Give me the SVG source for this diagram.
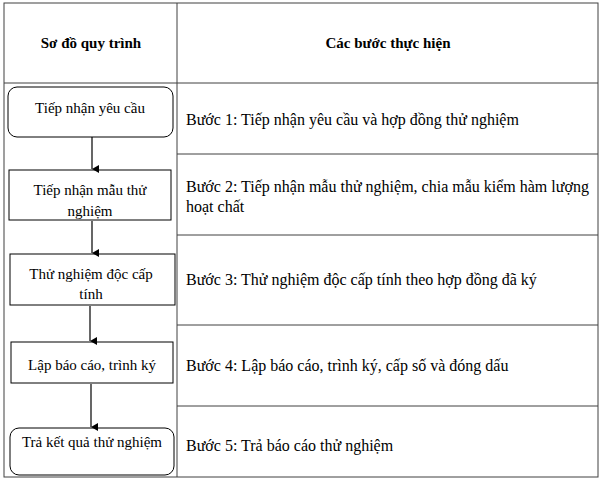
<svg xmlns="http://www.w3.org/2000/svg" width="602" height="488" viewBox="0 0 602 488">
<defs>
<marker id="ah" markerWidth="8" markerHeight="8" refX="4" refY="7" orient="auto" markerUnits="userSpaceOnUse"><path d="M0,0 L8,0 L4,7 Z" fill="#000"/></marker>
<style>
text{font-family:'Liberation Serif','Times New Roman','DejaVu Serif',serif;font-size:15px;fill:#000}
.h{font-weight:bold}
.r{font-size:16px}
.b{fill:#fff;stroke:#000;stroke-width:1}
.g{stroke:#404040;stroke-width:1;fill:none}
.c{stroke:#000;stroke-width:1.2;fill:none;marker-end:url(#ah)}
</style>
</defs>
<rect width="602" height="488" fill="#fff"/>
<g id="table">
<rect class="g" x="4" y="3" width="594" height="474"/>
<line class="g" x1="177" y1="3" x2="177" y2="477"/>
<line class="g" x1="4" y1="83" x2="598" y2="83"/>
<line class="g" x1="177" y1="154" x2="598" y2="154"/>
<line class="g" x1="177" y1="235" x2="598" y2="235"/>
<line class="g" x1="177" y1="325" x2="598" y2="325"/>
<line class="g" x1="177" y1="406" x2="598" y2="406"/>
<text class="h" x="91" y="48" text-anchor="middle">Sơ đồ quy trình</text>
<text class="h" x="388" y="48" text-anchor="middle">Các bước thực hiện</text>
<text class="r" x="186" y="125">Bước 1: Tiếp nhận yêu cầu và hợp đồng thử nghiệm</text>
<text class="r" x="186" y="192">Bước 2: Tiếp nhận mẫu thử nghiệm, chia mẫu kiểm hàm lượng</text>
<text class="r" x="186" y="212">hoạt chất</text>
<text class="r" x="186" y="285">Bước 3: Thử nghiệm độc cấp tính theo hợp đồng đã ký</text>
<text class="r" x="186" y="371">Bước 4: Lập báo cáo, trình ký, cấp số và đóng dấu</text>
<text class="r" x="186" y="451">Bước 5: Trả báo cáo thử nghiệm</text>
</g>
<g id="n1"><rect class="b" x="8" y="87" width="165" height="50" rx="9"/><text x="90" y="113" text-anchor="middle">Tiếp nhận yêu cầu</text></g>
<g id="n2"><rect class="b" x="9" y="170" width="162" height="50"/><text x="90" y="195" text-anchor="middle">Tiếp nhận mẫu thử</text><text x="90" y="216" text-anchor="middle">nghiệm</text></g>
<g id="n3"><rect class="b" x="10" y="254" width="165" height="51"/><text x="91" y="279" text-anchor="middle">Thử nghiệm độc cấp</text><text x="91" y="299" text-anchor="middle">tính</text></g>
<g id="n4"><rect class="b" x="11" y="342" width="162" height="41"/><text x="92" y="370" text-anchor="middle">Lập báo cáo, trình ký</text></g>
<g id="n5"><rect class="b" x="10" y="428" width="164" height="47" rx="9"/><text x="92" y="447" text-anchor="middle">Trả kết quả thử nghiệm</text></g>
<g id="connectors">
<line class="c" x1="92" y1="137" x2="92" y2="169"/>
<line class="c" x1="92" y1="221" x2="92" y2="253"/>
<line class="c" x1="90" y1="306" x2="90" y2="341"/>
<line class="c" x1="91" y1="384" x2="91" y2="427"/>
</g>
</svg>
